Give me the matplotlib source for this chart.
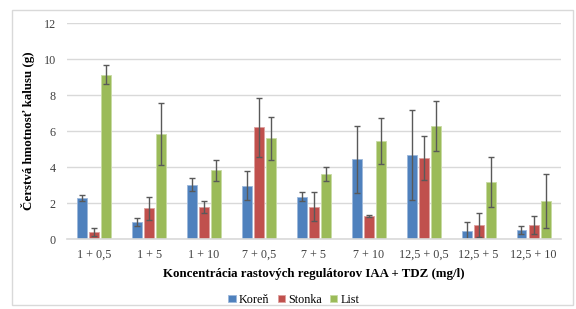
import matplotlib.pyplot as plt
import numpy as np
from matplotlib.patches import Rectangle

plt.rcParams['font.family'] = ['Liberation Serif', 'DejaVu Serif']

# kategórie
groups = ['1 + 0,5', '1 + 5', '1 + 10', '7 + 0,5', '7 + 5', '7 + 10',
          '12,5 + 0,5', '12,5 + 5', '12,5 + 10']

koren = [2.28, 0.96, 3.02, 2.96, 2.35, 4.43, 4.67, 0.44, 0.50]
koren_err = [0.15, 0.22, 0.35, 0.80, 0.25, 1.85, 2.50, 0.48, 0.20]

stonka = [0.39, 1.70, 1.78, 6.20, 1.80, 1.28, 4.50, 0.78, 0.76]
stonka_err = [0.24, 0.63, 0.31, 1.63, 0.80, 0.03, 1.20, 0.67, 0.50]

listy = [9.13, 5.81, 3.81, 5.60, 3.60, 5.44, 6.28, 3.17, 2.11]
listy_err = [0.53, 1.72, 0.56, 1.20, 0.38, 1.30, 1.40, 1.40, 1.52]

fig = plt.figure(figsize=(5.76, 3.09), dpi=100)
ax = fig.add_axes([0.116, 0.2265, 0.858, 0.699])

# rámik okolo grafu
fig.patches.append(Rectangle((0.021, 0.013), 0.974, 0.955, transform=fig.transFigure,
                             fill=False, edgecolor='#D9D9D9', linewidth=1))

x = np.arange(len(groups))
w = 0.18
d = 0.22
err_kw = dict(ecolor='#595959', elinewidth=1, capsize=2, capthick=1)

ax.bar(x - d, koren, w, yerr=koren_err, color='#4F81BD', edgecolor='#9DB8DB',
       linewidth=0.6, error_kw=err_kw, label='Koreň', zorder=2)
ax.bar(x, stonka, w, yerr=stonka_err, color='#C0504D', edgecolor='#DDA09E',
       linewidth=0.6, error_kw=err_kw, label='Stonka', zorder=2)
ax.bar(x + d, listy, w, yerr=listy_err, color='#9BBB59', edgecolor='#C8DBA3',
       linewidth=0.6, error_kw=err_kw, label='List', zorder=2)

ax.set_xlim(-0.5, len(groups) - 0.5)
ax.set_ylim(0, 12)
ax.set_yticks(np.arange(0, 13, 2))
ax.set_xticks(x)
ax.set_xticklabels(groups)
ax.tick_params(axis='both', length=0, labelsize=8.7, labelcolor='#404040')
ax.tick_params(axis='x', pad=7)
ax.tick_params(axis='y', pad=8)

ax.yaxis.grid(True, color='#D9D9D9', linewidth=1)
ax.set_axisbelow(True)
for s in ['top', 'right', 'left']:
    ax.spines[s].set_visible(False)
ax.spines['bottom'].set_color('#D9D9D9')
ax.spines['bottom'].set_linewidth(1.2)

ax.set_xlabel('Koncentrácia rastových regulátorov IAA + TDZ (mg/l)',
              fontsize=9.3, fontweight='bold', labelpad=5)
ax.set_ylabel('Čerstvá hmotnosť kalusu (g)', fontsize=9.3, fontweight='bold', labelpad=6)

fig.legend(loc='center', bbox_to_anchor=(0.51, 0.03), ncol=3, frameon=False,
           fontsize=8.7, handlelength=0.6, handleheight=0.6, handletextpad=0.25,
           columnspacing=0.7)

plt.savefig('out.png', dpi=100)
